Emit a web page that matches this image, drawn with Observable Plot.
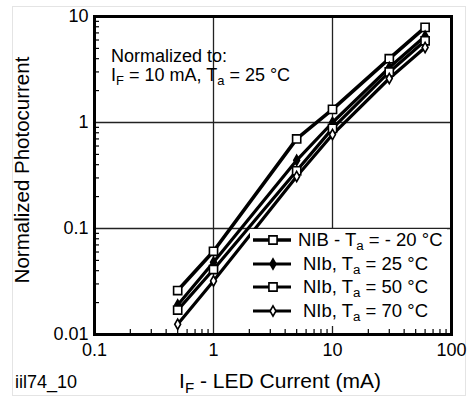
<!DOCTYPE html>
<html><head><meta charset="utf-8">
<script src="https://cdn.jsdelivr.net/npm/d3@7"></script>
<script src="https://cdn.jsdelivr.net/npm/@observablehq/plot@0.6"></script>
<style>
body{margin:0;background:#fff;font-family:"Liberation Sans",Arial,Helvetica,sans-serif;color:#000;}
#wrap{position:relative;width:467px;height:396px;overflow:hidden;background:#fff;}
#wrap svg{position:absolute;left:0;top:0;}
.ov{position:absolute;white-space:nowrap;line-height:1;}
sub{font-size:0.72em;vertical-align:baseline;position:relative;top:0.32em;}
#border{position:absolute;left:12px;top:6px;width:452px;height:388px;border:1px solid #e4e4e4;}
</style></head><body>
<div id="wrap"><div id="border"></div></div>
<script>
// ---- data ----
const currentMA = [0.5, 1, 5, 10, 30, 60];
const seriesKeys = ["m20", "p25", "p50", "p70"];
const photoM20 = [0.026, 0.061, 0.70, 1.33, 4.0, 7.9];
const photoP25 = [0.019, 0.048, 0.44, 1.0, 3.3, 6.5];
const photoP50 = [0.017, 0.041, 0.35, 0.88, 3.0, 5.9];
const photoP70 = [0.0125, 0.032, 0.31, 0.77, 2.6, 5.1];
const legendPrefix = ["NIB - T", "NIb, T", "NIb, T", "NIb, T"];
const legendSuffix = [" = - 20 °C", " = 25 °C", " = 50 °C", " = 70 °C"];
const xTickValues = [0.1, 1, 10, 100];
const yTickValues = [0.01, 0.1, 1, 10];
const xGridValues = [1, 10];
const yGridValues = [0.1, 1];

// ---- build ----
const valuesBySeries = {m20: photoM20, p25: photoP25, p50: photoP50, p70: photoP70};
const rows = seriesKeys.flatMap(s => currentMA.map((c, i) => ({s, I: c, v: valuesBySeries[s][i]})));
const markerStyle = {
  m20: {symbol: "square", fill: "#fff", r: 4.6},
  p25: {symbol: "diamond", fill: "#000", r: 3.1},
  p50: {symbol: "square", fill: "#fff", r: 4.6},
  p70: {symbol: "diamond", fill: "#fff", r: 3.1}
};
const minorDecades = [0.1, 1, 10];
const xMinor = minorDecades.flatMap(d => [2,3,4,5,6,7,8,9].map(k => k * d));
const yMinor = [0.01, 0.1, 1].flatMap(d => [2,3,4,5,6,7,8,9].map(k => k * d));

const W = 467, H = 396, mL = 94, mR = 16, mT = 16, mB = 62;
const iw = W - mL - mR, ih = H - mT - mB;

const marks = [
  Plot.ruleX(xGridValues, {stroke: "#222", strokeWidth: 1.3}),
  Plot.ruleY(yGridValues, {stroke: "#222", strokeWidth: 1.3}),
  Plot.tickX(xMinor, {x: d => d, insetTop: ih - 5, stroke: "#000", strokeWidth: 1.2}),
  Plot.tickY(yMinor, {y: d => d, insetRight: iw - 5, stroke: "#000", strokeWidth: 1.2}),
  Plot.axisX(xTickValues, {tickSize: 0, tickPadding: 9, label: null, tickFormat: d => String(d), fontSize: 18}),
  Plot.axisY(yTickValues, {tickSize: 0, tickPadding: 6, label: null, tickFormat: d => String(d), fontSize: 18}),
  Plot.line(rows, {x: "I", y: "v", z: "s", stroke: "#000", strokeWidth: d => d.s === "m20" ? 3.6 : 3.2})
];
for (const s of seriesKeys) {
  const m = markerStyle[s];
  marks.push(Plot.dot(rows.filter(d => d.s === s), {x: "I", y: "v", symbol: m.symbol, r: m.r, fill: m.fill, stroke: "#000", strokeWidth: 1.6}));
}
marks.push(Plot.frame({stroke: "#000", strokeWidth: 3}));

const chart = Plot.plot({
  width: W, height: H, marginLeft: mL, marginRight: mR, marginTop: mT, marginBottom: mB,
  style: {fontFamily: '"Liberation Sans", Arial, sans-serif', fontSize: "18px", color: "#000", background: "transparent"},
  x: {type: "log", domain: [0.1, 100]},
  y: {type: "log", domain: [0.01, 10]},
  marks
});
const wrap = document.getElementById("wrap");
wrap.appendChild(chart);

function addText(html, css) {
  const d = document.createElement("div");
  d.className = "ov";
  d.innerHTML = html;
  Object.assign(d.style, css);
  wrap.appendChild(d);
  return d;
}
// annotation
addText("Normalized to:", {left: "111px", top: "47px", fontSize: "18px"});
addText("I<sub>F</sub> = 10 mA, T<sub>a</sub> = 25 °C", {left: "111px", top: "66px", fontSize: "18px"});
// axis titles
addText("I<sub>F</sub> - LED Current (mA)", {left: "280px", top: "370px", fontSize: "21px", transform: "translateX(-50%)"});
addText("iil74_10", {left: "15px", top: "373px", fontSize: "18px"});
addText("Normalized Photocurrent", {left: "22px", top: "170px", fontSize: "20.5px", transform: "translate(-50%,-50%) rotate(-90deg)"});

// legend
const leg = document.createElement("div");
Object.assign(leg.style, {position: "absolute", left: "250px", top: "229px", width: "197px", height: "97px", background: "#fff"});
wrap.appendChild(leg);
seriesKeys.forEach((s, i) => {
  const cy = 11 + i * 23.5;
  const svg = d3.create("svg").attr("width", 42).attr("height", 20)
    .style("position", "absolute").style("left", "2px").style("top", (cy - 10) + "px");
  svg.append("line").attr("x1", 1).attr("x2", 39).attr("y1", 10).attr("y2", 10)
    .attr("stroke", "#000").attr("stroke-width", i === 0 ? 3.6 : 3.2);
  const m = markerStyle[s];
  svg.append("path").attr("transform", "translate(21,10)")
    .attr("d", d3.symbol(m.symbol === "square" ? d3.symbolSquare : d3.symbolDiamond, Math.PI * m.r * m.r)())
    .attr("fill", m.fill).attr("stroke", "#000").attr("stroke-width", 1.6);
  leg.appendChild(svg.node());
  const t = document.createElement("div");
  t.className = "ov";
  t.innerHTML = legendPrefix[i] + "<sub>a</sub>" + legendSuffix[i];
  Object.assign(t.style, {left: (i === 0 ? 48 : 53) + "px", top: (cy - 9) + "px", fontSize: "18.5px"});
  leg.appendChild(t);
});
</script>
</body></html>
